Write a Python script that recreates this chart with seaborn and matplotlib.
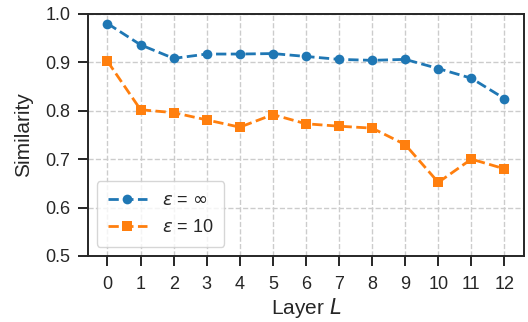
import matplotlib
matplotlib.use("Agg")
import matplotlib.pyplot as plt
import seaborn as sns

layers = list(range(13))
sim_inf = [0.980, 0.936, 0.908, 0.917, 0.917, 0.918, 0.912, 0.906, 0.904, 0.906, 0.887, 0.867, 0.825]
sim_10 = [0.902, 0.802, 0.796, 0.781, 0.766, 0.792, 0.773, 0.768, 0.764, 0.730, 0.652, 0.700, 0.680]
labels = [r"$\varepsilon$ = $\infty$", r"$\varepsilon$ = 10"]

sns.set_theme(style="ticks")
plt.rcParams['font.family'] = ['Liberation Sans', 'DejaVu Sans']

fig, ax = plt.subplots(figsize=(5.28, 3.22), dpi=100)
palette = sns.color_palette("tab10")
sns.lineplot(x=layers, y=sim_inf, ax=ax, color=palette[0], marker="o", markersize=7,
             linestyle="--", linewidth=2.0, markeredgewidth=0, label=labels[0])
sns.lineplot(x=layers, y=sim_10, ax=ax, color=palette[1], marker="s", markersize=7,
             linestyle="--", linewidth=2.0, markeredgewidth=0, label=labels[1])

ax.set_xlim(-0.6, 12.6)
ax.set_ylim(0.5, 1.0)
ax.set_xticks(layers)
ax.set_yticks([0.5, 0.6, 0.7, 0.8, 0.9, 1.0])
ax.grid(True, linestyle="--", color="#cccccc", linewidth=1.0)
ax.tick_params(axis="both", labelsize=13, length=7.5, width=1.4, pad=5, colors="#262626")
ax.tick_params(axis="x", pad=7)
ax.set_xlabel("Layer $L$", fontsize=15, labelpad=2)
ax.set_ylabel("Similarity", fontsize=15, labelpad=9)
for s in ax.spines.values():
    s.set_linewidth(1.4)
    s.set_color("#262626")
ax.legend(loc="lower left", fontsize=13, handlelength=2.2, borderpad=0.6, labelspacing=0.55,
          borderaxespad=0.5)
fig.subplots_adjust(left=0.166, right=0.993, top=0.957, bottom=0.205)
fig.savefig("out.png", dpi=100)
